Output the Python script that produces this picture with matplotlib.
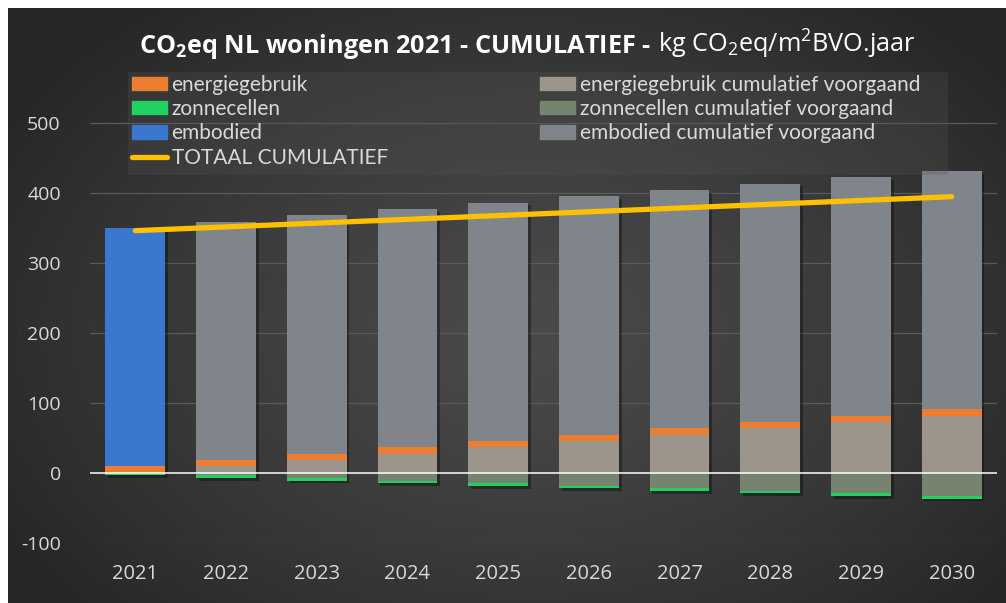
import numpy as np
import matplotlib
matplotlib.use("Agg")
import matplotlib.pyplot as plt
from matplotlib.patches import Patch, Rectangle
from matplotlib.lines import Line2D
import matplotlib.patheffects as pe

# ---------------- data ----------------
years = ['2021', '2022', '2023', '2024', '2025', '2026', '2027', '2028', '2029', '2030']
energiegebruik = [9.1, 9.1, 9.1, 9.1, 9.1, 9.1, 9.1, 9.1, 9.1, 9.1]
energiegebruik_cum_voorgaand = [0, 9.1, 18.2, 27.3, 36.4, 45.5, 54.6, 63.7, 72.8, 81.9]
zonnecellen = [-3.7, -3.7, -3.7, -3.7, -3.7, -3.7, -3.7, -3.7, -3.7, -3.7]
zonnecellen_cum_voorgaand = [0, -3.7, -7.4, -11.1, -14.8, -18.5, -22.2, -25.9, -29.6, -33.3]
embodied = [341, 0, 0, 0, 0, 0, 0, 0, 0, 0]
embodied_cum_voorgaand = [0, 341, 341, 341, 341, 341, 341, 341, 341, 341]
totaal_cumulatief = [346.4, 351.8, 357.2, 362.6, 368.0, 373.4, 378.8, 384.2, 389.6, 395.0]
y_ticks = [-100, 0, 100, 200, 300, 400, 500]

# ---------------- style ----------------
C_ORANGE = '#ED7D31'
C_GREEN = '#1ED160'
C_BLUE = '#3A78CF'
C_TAN = '#9C958B'
C_ZCUM = '#75836F'
C_GREY = '#80848B'
C_LINE = '#FFC000'
C_TEXT = '#D9D9D9'
FONT = ['Lato', 'DejaVu Sans']
TFONT = ['Open Sans', 'DejaVu Sans']

plt.rcParams['mathtext.fontset'] = 'custom'
plt.rcParams['mathtext.rm'] = 'Open Sans'
plt.rcParams['mathtext.bf'] = 'Open Sans:bold'
plt.rcParams['mathtext.it'] = 'Open Sans:italic'

W, H = 1006, 603
fig = plt.figure(figsize=(W / 100, H / 100), dpi=100, facecolor='white')

# background with radial gradient
bg = fig.add_axes([8 / W, 0, (W - 8) / W, (H - 8) / H], zorder=-10)
gy, gx = np.mgrid[0:595, 0:998]
cx, cy = 520, 320
r = np.sqrt(((gx - cx) / 620.0) ** 2 + ((gy - cy) / 420.0) ** 2)
r = np.clip(r, 0, 1)
c_in = np.array([0x4A, 0x4A, 0x4A]) / 255
c_out = np.array([0x26, 0x26, 0x26]) / 255
img = c_in[None, None, :] * (1 - r[..., None] ** 1.3) + c_out[None, None, :] * (r[..., None] ** 1.3)
bg.imshow(img, aspect='auto', extent=[0, 1, 0, 1], interpolation='bilinear')
bg.set_axis_off()

# main axes
ax_left, ax_right = 90 / W, 997 / W
y0_px, ymin, ymax = 542.7, -100, 550
px_per_unit = 0.699
top_px = y0_px - (ymax - ymin) * px_per_unit
ax = fig.add_axes([ax_left, (H - y0_px) / H, ax_right - ax_left, (y0_px - top_px) / H])
ax.set_facecolor('none')
ax.set_xlim(-0.5, len(years) - 0.5)
ax.set_ylim(ymin, ymax)

x = np.arange(len(years))
bw = 0.66

e_cum = np.array(energiegebruik_cum_voorgaand)
e = np.array(energiegebruik)
emb = np.array(embodied)
emb_cum = np.array(embodied_cum_voorgaand)
z_cum = np.array(zonnecellen_cum_voorgaand)
z = np.array(zonnecellen)

kw = dict(width=bw, linewidth=0, zorder=3)
ax.bar(x, e_cum, bottom=0, color=C_TAN, **kw)
ax.bar(x, e, bottom=e_cum, color=C_ORANGE, **kw)
ax.bar(x, emb, bottom=e_cum + e, color=C_BLUE, **kw)
ax.bar(x, emb_cum, bottom=e_cum + e + emb, color=C_GREY, **kw)
ax.bar(x, z_cum, bottom=0, color=C_ZCUM, **kw)
ax.bar(x, z, bottom=z_cum, color=C_GREEN, **kw)

# soft shadow behind each column
tops = e_cum + e + emb + emb_cum
bots = z_cum + z
ax.bar(x, tops - bots, bottom=bots, width=bw, color='#202020', linewidth=0, zorder=2,
       path_effects=[pe.SimplePatchShadow(offset=(2, -2), alpha=0.4), pe.Normal()])

ax.plot(x, totaal_cumulatief, color=C_LINE, lw=3.8, solid_capstyle='round', zorder=5)

# grid + zero line
for yt in y_ticks:
    if yt == 0:
        continue
    ax.axhline(yt, color='#5A5A5A', lw=0.9, zorder=1)
ax.axhline(0, color='white', lw=1.1, zorder=4)

for s in ax.spines.values():
    s.set_visible(False)
ax.set_yticks(y_ticks)
ax.set_yticklabels([str(v) for v in y_ticks])
ax.set_xticks(x)
ax.set_xticklabels(years)
ax.tick_params(axis='y', length=0, pad=21, labelsize=14, labelcolor=C_TEXT)
ax.tick_params(axis='x', length=0, pad=15, labelsize=14.5, labelcolor=C_TEXT)
for lbl in ax.get_xticklabels() + ax.get_yticklabels():
    lbl.set_family(TFONT)

# legend background
fig.patches.append(Rectangle((128 / W, (H - 175) / H), (948 - 128) / W, (175 - 72) / H,
                             transform=fig.transFigure, facecolor='#555555', alpha=0.25,
                             edgecolor='none', zorder=6))

leg_kw = dict(frameon=False, handlelength=1.7, handleheight=0.6,
              handletextpad=0.2, labelspacing=0.2, borderpad=0, borderaxespad=0,
              prop={'family': FONT, 'size': 15})
h_left = [Patch(color=C_ORANGE), Patch(color=C_GREEN), Patch(color=C_BLUE),
          Line2D([0], [0], color=C_LINE, lw=3.8, solid_capstyle='round')]
l_left = ['energiegebruik', 'zonnecellen', 'embodied', 'TOTAAL CUMULATIEF']
h_right = [Patch(color=C_TAN), Patch(color=C_ZCUM), Patch(color=C_GREY)]
l_right = ['energiegebruik cumulatief voorgaand', 'zonnecellen cumulatief voorgaand',
           'embodied cumulatief voorgaand']
lg1 = fig.legend(h_left, l_left, loc='upper left', bbox_to_anchor=(132 / W, (H - 75) / H), **leg_kw)
lg2 = fig.legend(h_right, l_right, loc='upper left', bbox_to_anchor=(540 / W, (H - 75) / H), **leg_kw)
for lg in (lg1, lg2):
    lg.set_zorder(7)
    for t in lg.get_texts():
        t.set_color(C_TEXT)

# title: bold part + regular part
fig.canvas.draw()
renderer = fig.canvas.get_renderer()
ty = (H - 53) / H
t1 = fig.text(0, ty, r'CO$_\mathbf{2}$eq NL woningen 2021 - CUMULATIEF -', fontsize=18.2,
              fontweight='bold', family=TFONT, color='white', va='baseline', ha='left')
t2 = fig.text(0, ty, r'kg CO$_2$eq/m$^2$BVO.jaar', fontsize=18.2, family=TFONT,
              color='white', va='baseline', ha='left')
gap = 7
w1 = t1.get_window_extent(renderer).width
w2 = t2.get_window_extent(renderer).width
xc = 527
start = xc - (w1 + gap + w2) / 2
t1.set_x(start / W)
t2.set_x((start + w1 + gap) / W)

fig.savefig('out.png', dpi=100, facecolor=fig.get_facecolor())
